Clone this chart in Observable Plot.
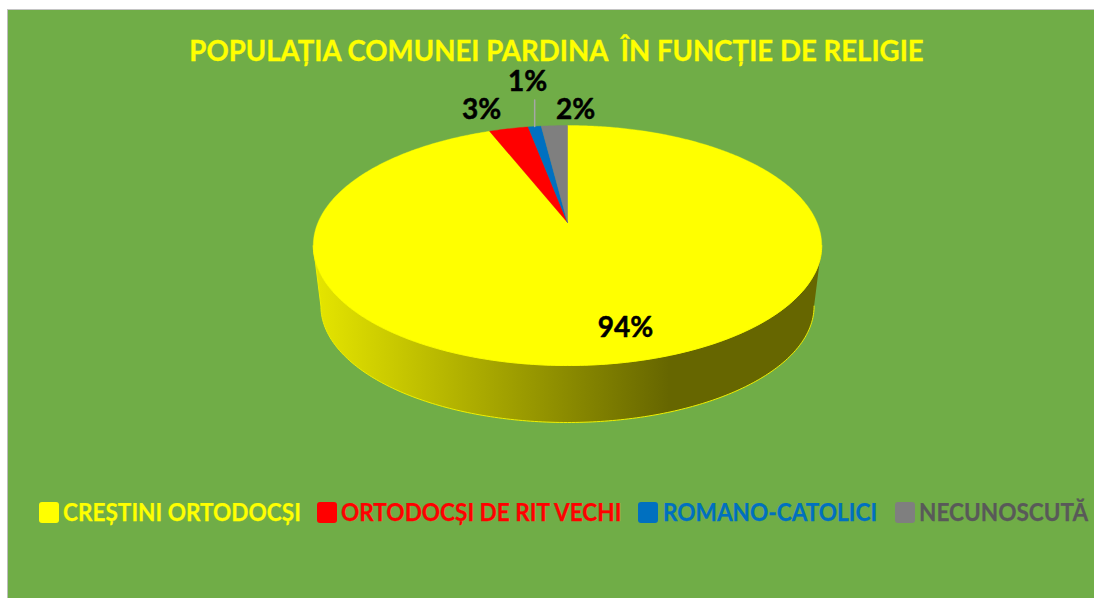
<!DOCTYPE html>
<html lang="ro">
<head>
<meta charset="utf-8">
<script src="https://cdn.jsdelivr.net/npm/d3@7"></script>
<script src="https://cdn.jsdelivr.net/npm/@observablehq/plot@0.6"></script>
<style>
  html, body { margin: 0; padding: 0; background: #fff; width: 1094px; height: 598px; overflow: hidden; }
  #frame { position: absolute; left: 7px; top: 9px; width: 1087px; height: 589px; background: #70AD47;
           border-left: 1px solid #bdbdbd; border-top: 1px solid #c4c4c4; box-sizing: border-box; }
  #chart { position: absolute; left: 0; top: 0; }
  #chart svg { background: transparent !important; display: block; }
  #title { position: absolute; left: 0; width: 1113px; top: 37px; text-align: center; white-space: pre;
           font: bold 27.6px Lato, sans-serif; color: #FFFF00; line-height: 28px; -webkit-text-stroke: 0.3px #FFFF00; }
  .key { position: absolute; top: 502px; width: 20px; height: 21px; border-radius: 3px; }
  .lab { position: absolute; top: 497px; font: bold 24.3px Lato, sans-serif; line-height: 30px; white-space: pre;
         transform: scaleX(0.93); transform-origin: left center; -webkit-text-stroke: 0.25px currentColor; }
</style>
</head>
<body>
<div id="frame"></div>
<div id="chart"></div>
<div id="title"></div>
<div id="legend"></div>
<script>
const titleText = "POPULAȚIA COMUNEI PARDINA  ÎN FUNCȚIE DE RELIGIE";
const categories = ["CREȘTINI ORTODOCȘI", "ORTODOCȘI DE RIT VECHI", "ROMANO-CATOLICI", "NECUNOSCUTĂ"];
const shares = [94, 3, 1, 2];
const percentLabels = ["94%", "3%", "1%", "2%"];
const sliceColors = ["#FFFF00", "#FF0000", "#0070C0", "#7F7F7F"];
const legendTextColors = ["#FFFF00", "#FF0000", "#0070C0", "#595959"];

// Layout (kept apart from the data)
const legendKeyLeft = [39, 317, 638, 895];
const legendTextLeft = [63, 341, 663, 919];
const labelAnchors = [[0.232, -0.917], [-0.344, 0.969], [-0.16, 1.211], [0.032, 0.969]];
const tilt = 0.1917;          // perspective of the disc
const baseScale = 0.97;       // lower rim is a little smaller
const baseDrop = 0.53;        // thickness of the disc, in pie units

document.getElementById("title").textContent = titleText;
const legend = document.getElementById("legend");
categories.forEach((c, i) => {
  const k = document.createElement("div");
  k.className = "key"; k.style.left = legendKeyLeft[i] + "px"; k.style.background = sliceColors[i];
  const t = document.createElement("div");
  t.className = "lab"; t.style.left = legendTextLeft[i] + "px"; t.style.color = legendTextColors[i];
  t.textContent = c;
  legend.append(k, t);
});

// Perspective projection of a point on the unit disc; angle clockwise from the top
const project = (a, r = 1) => {
  const w = 1 + tilt * r * Math.cos(a);
  return { x: r * Math.sin(a) / w, y: r * Math.cos(a) / w };
};
const TAU = 2 * Math.PI;
const total = d3.sum(shares);
let acc = 0;
const slices = shares.map((v, i) => {
  const start = acc / total * TAU; acc += v;
  return { name: categories[i], start, end: acc / total * TAU };
});
const slicePts = slices.flatMap(s => {
  const n = Math.max(2, Math.ceil((s.end - s.start) / 0.01));
  const rim = d3.range(n + 1).map(j => project(s.start + (s.end - s.start) * j / n));
  return [{ x: 0, y: 0 }, ...rim, { x: 0, y: 0 }].map(p => ({ ...p, name: s.name }));
});

// Side wall: front half of the upper rim, then back along the lower rim
const aRight = Math.acos(-tilt), aLeft = TAU - aRight;
const sweep = d3.range(0, 201).map(j => aRight + (aLeft - aRight) * j / 200);
const upper = sweep.map(a => project(a));
const lower = sweep.map(a => { const p = project(a); return { x: p.x * baseScale, y: p.y * baseScale - baseDrop }; });
const wall = [...upper, ...lower.slice().reverse()];

// Leader of the 1% label
const blue = slices[2];
const leaderFoot = project((blue.start + blue.end) / 2);
const leader = [leaderFoot, { x: leaderFoot.x, y: 1.06 }];

const labelRows = percentLabels.map((t, i) => ({ t, x: labelAnchors[i][0], y: labelAnchors[i][1] }));

const gradientDefs = () => {
  const ns = "http://www.w3.org/2000/svg";
  const defs = document.createElementNS(ns, "defs");
  const g = document.createElementNS(ns, "linearGradient");
  g.setAttribute("id", "wallShade");
  [[0, "#e6e600"], [0.7, "#666600"], [1, "#666600"]].forEach(([o, c]) => {
    const st = document.createElementNS(ns, "stop");
    st.setAttribute("offset", o); st.setAttribute("stop-color", c);
    g.append(st);
  });
  defs.append(g);
  return defs;
};

const plot = Plot.plot({
  width: 1094, height: 598, margin: 0,
  x: { domain: [-1, 1], range: [317.5, 816.5], axis: null },
  y: { domain: [-1, 1], range: [337.6, 106.4], axis: null },
  color: { domain: categories, range: sliceColors },
  style: { background: "transparent" },
  marks: [
    gradientDefs,
    Plot.line(wall, { x: "x", y: "y", fill: "url(#wallShade)", stroke: "#F0F000", strokeWidth: 1, curve: "linear" }),
    Plot.line(slicePts, { x: "x", y: "y", z: "name", fill: "name", stroke: "name", strokeWidth: 0.4, curve: "linear" }),
    Plot.line(leader, { x: "x", y: "y", stroke: "#A6A6A6", strokeWidth: 1.5 }),
    Plot.text(labelRows, { x: "x", y: "y", text: "t", fill: "#000", stroke: "#000", strokeWidth: 0.5, fontSize: 28, fontWeight: "bold", fontFamily: "Lato, sans-serif" })
  ]
});
document.getElementById("chart").append(plot);
</script>
</body>
</html>
